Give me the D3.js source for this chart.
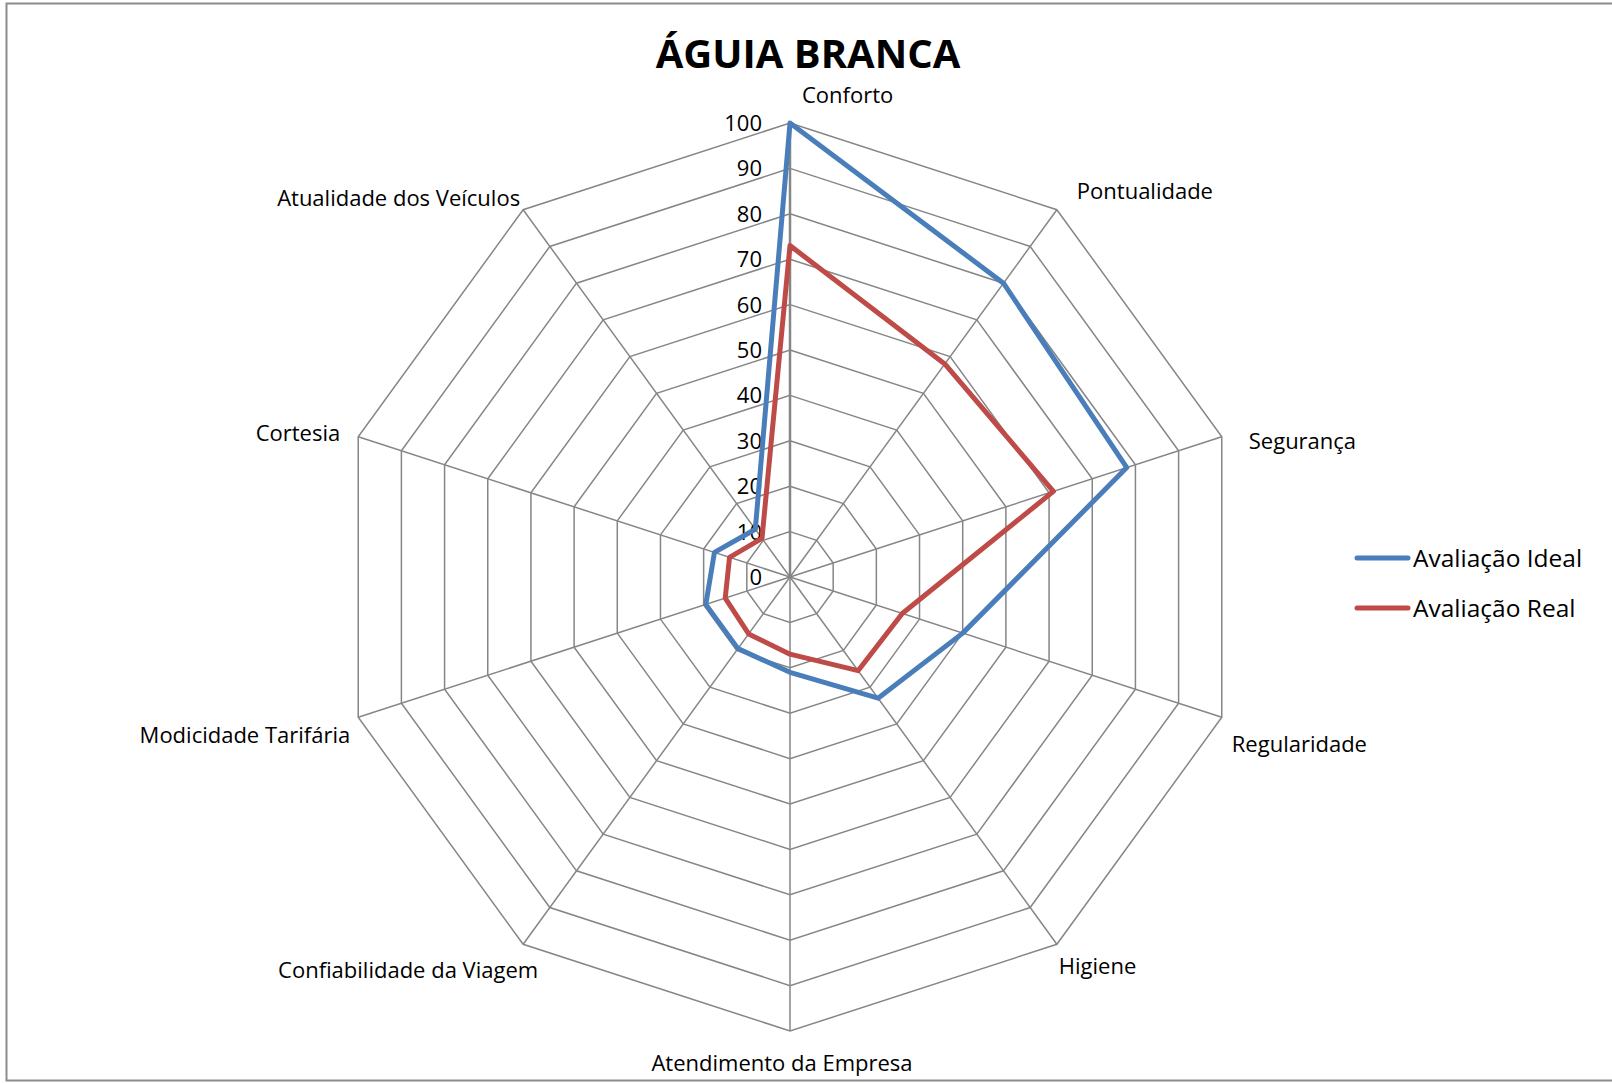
<!DOCTYPE html>
<html>
<head>
<meta charset="utf-8">
<script src="https://cdn.jsdelivr.net/npm/d3@7"></script>
<style>
  body { margin: 0; background: #fff; overflow: hidden; }
  svg { display: block; overflow: hidden; font-family: "Open Sans", Carlito, Calibri, sans-serif; }
</style>
</head>
<body>
<svg id="radar" width="1612" height="1083"></svg>
<script>
// data
var categories = ["Conforto", "Pontualidade", "Segurança", "Regularidade", "Higiene",
  "Atendimento da Empresa", "Confiabilidade da Viagem", "Modicidade Tarifária",
  "Cortesia", "Atualidade dos Veículos"];
var idealValues = [100, 80, 78, 40, 33, 21, 19.5, 19.5, 17.5, 13];
var realValues = [73, 58, 61, 26, 25.5, 17, 15.5, 15, 14, 10.5];
var tickValues = [0, 10, 20, 30, 40, 50, 60, 70, 80, 90, 100];
var seriesNames = ["Avaliação Ideal", "Avaliação Real"];

var svg = d3.select("#radar");
var cx = 790, cy = 577, radius = 454;
var blue = "#4a7ebb", red = "#be4b48", grid = "#868686";

// frame (right edge falls outside the picture)
svg.append("rect")
  .attr("x", 6.5).attr("y", 3.5)
  .attr("width", 1700).attr("height", 1077)
  .attr("fill", "none").attr("stroke", "#8c8c8c").attr("stroke-width", 2);

svg.append("text")
  .attr("x", 808).attr("y", 68)
  .attr("text-anchor", "middle")
  .attr("font-size", 40).attr("font-weight", "bold")
  .text("ÁGUIA BRANCA");

var r = d3.scaleLinear().domain([0, 100]).range([0, radius]);
var angle = d3.scaleLinear().domain([0, categories.length]).range([0, 2 * Math.PI]);

function pt(i, v) {
  var a = angle(i);
  return [cx + r(v) * Math.sin(a), cy - r(v) * Math.cos(a)];
}

var g = svg.append("g");

// web
tickValues.slice(1).forEach(function (t) {
  g.append("polygon")
    .attr("points", categories.map(function (c, i) { return pt(i, t).join(","); }).join(" "))
    .attr("fill", "none").attr("stroke", grid).attr("stroke-width", 1.5);
});
categories.forEach(function (c, i) {
  var p = pt(i, 100);
  g.append("line")
    .attr("x1", cx).attr("y1", cy).attr("x2", p[0]).attr("y2", p[1])
    .attr("stroke", grid).attr("stroke-width", i === 0 ? 2.5 : 1.5);
});

// tick labels
g.selectAll("text.tick").data(tickValues).enter().append("text")
  .attr("class", "tick")
  .attr("x", cx - 28)
  .attr("y", function (d) { return cy - r(d) + 8; })
  .attr("text-anchor", "end")
  .attr("font-size", 22)
  .text(function (d) { return d; });

// category labels (offsets from each outer vertex, layout only)
var labelOffsets = [[12, -20, "start"], [20, -11, "start"], [27, 12, "start"], [10, 35, "start"], [2, 30, "start"],
  [-8, 40, "middle"], [15, 34, "end"], [-8, 26, "end"], [-18, 4, "end"], [-3, -4, "end"]];
categories.forEach(function (c, i) {
  var p = pt(i, 100), o = labelOffsets[i];
  g.append("text")
    .attr("x", p[0] + o[0]).attr("y", p[1] + o[1])
    .attr("text-anchor", o[2])
    .attr("font-size", 22)
    .text(c);
});

// series
var line = d3.line().curve(d3.curveLinearClosed);
[[realValues, red], [idealValues, blue]].forEach(function (s) {
  g.append("path")
    .attr("d", line(s[0].map(function (v, i) { return pt(i, v); })))
    .attr("fill", "none").attr("stroke", s[1]).attr("stroke-width", 5)
    .attr("stroke-linejoin", "round");
});

// legend
var legend = svg.append("g");
[[seriesNames[0], blue], [seriesNames[1], red]].forEach(function (s, i) {
  var y = 558 + i * 50;
  legend.append("line")
    .attr("x1", 1357).attr("x2", 1408).attr("y1", y).attr("y2", y)
    .attr("stroke", s[1]).attr("stroke-width", 5).attr("stroke-linecap", "round");
  legend.append("text")
    .attr("x", 1413).attr("y", y + 9)
    .attr("font-size", 24.5)
    .text(s[0]);
});
</script>
</body>
</html>
